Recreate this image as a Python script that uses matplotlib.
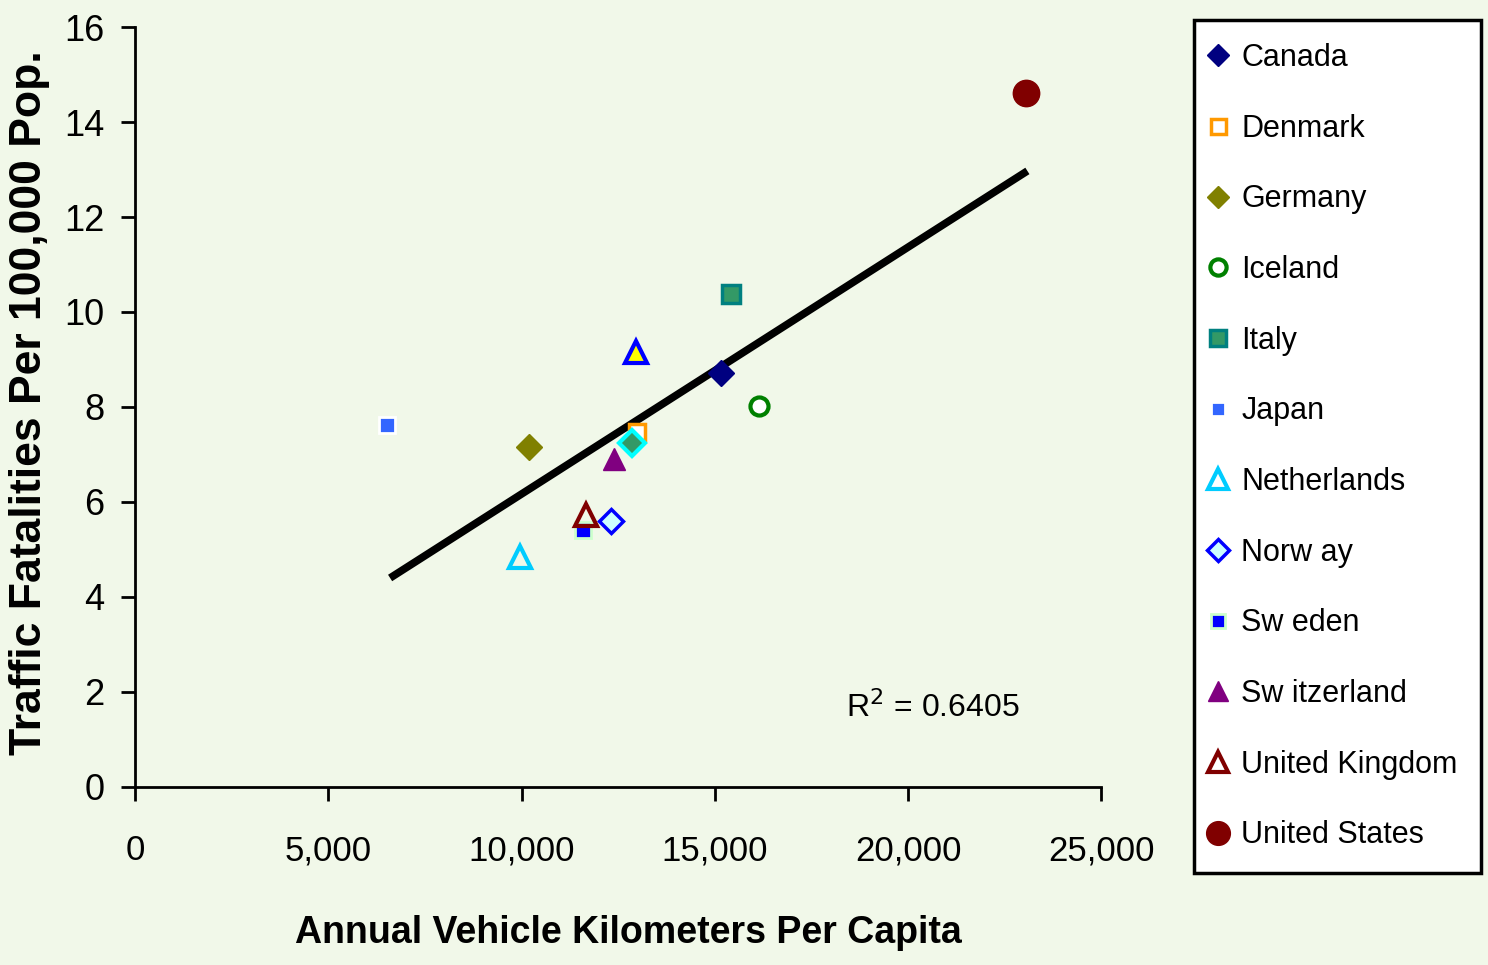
import matplotlib.pyplot as plt
from matplotlib.ticker import FuncFormatter

# data
countries = ["Canada", "Denmark", "Germany", "Iceland", "Italy", "Japan",
             "Netherlands", "Norw ay", "Sw eden", "Sw itzerland",
             "United Kingdom", "United States"]
km_per_capita = [15166, 12992, 10197, 16149, 15424, 6522,
                 9964, 12319, 11594, 12396, 11672, 23059]
fatalities = [8.72, 7.47, 7.16, 8.02, 10.38, 7.62,
              4.84, 5.60, 5.41, 6.90, 5.73, 14.61]

# two extra points with no legend entry
extra_km = [12966, 12862]
extra_fat = [9.16, 7.24]

# trend line
trend_x = [6600, 23085]
trend_y = [4.40, 12.97]
r2_text = "R$^2$ = 0.6405"

# marker styles: marker, size, face, edge, edge width
styles = [
    ("D", 13, "#000080", "#000080", 1),
    ("s", 12, "white", "#FF9900", 2.5),
    ("D", 13, "#808000", "#808000", 1),
    ("o", 13, "white", "#008000", 3),
    ("s", 13, "#339966", "#008080", 2.5),
    ("s", 11, "#3366FF", "white", 2),
    ("^", 16, "none", "#00CCFF", 3),
    ("D", 12, "#CCFFFF", "#0000FF", 2.5),
    ("s", 11, "#0000FF", "#CCFFCC", 2),
    ("^", 16, "#800080", "#800080", 1),
    ("^", 16, "none", "#800000", 3),
    ("o", 19, "#800000", "#800000", 1),
]
extra_styles = [
    ("^", 16, "#FFFF00", "#0000FF", 3),
    ("D", 13, "#339966", "#00FFFF", 3),
]

bg = "#F1F8E9"
sans = ["Liberation Sans", "DejaVu Sans"]

fig = plt.figure(figsize=(14.88, 9.65), dpi=100, facecolor=bg)
ax = fig.add_axes([0.0907, 0.1845, 0.6495, 0.7875])
ax.set_facecolor(bg)

ax.plot(trend_x, trend_y, color="black", lw=5.5, solid_capstyle="butt", zorder=3)

handles = []
for name, x, y, st in zip(countries, km_per_capita, fatalities, styles):
    m, ms, fc, ec, mew = st
    h, = ax.plot([x], [y], linestyle="none", marker=m, markersize=ms,
                 markerfacecolor=fc, markeredgecolor=ec, markeredgewidth=mew,
                 label=name, zorder=4)
    handles.append(h)
for x, y, st in zip(extra_km, extra_fat, extra_styles):
    m, ms, fc, ec, mew = st
    ax.plot([x], [y], linestyle="none", marker=m, markersize=ms,
            markerfacecolor=fc, markeredgecolor=ec, markeredgewidth=mew, zorder=4)

ax.text(18400, 1.66, r2_text, fontsize=23, family=sans, va="center", ha="left")

ax.set_xlim(0, 25000)
ax.set_ylim(0, 16)
ax.set_xticks(range(0, 25001, 5000))
ax.set_yticks(range(0, 17, 2))
ax.xaxis.set_major_formatter(FuncFormatter(lambda v, p: f"{int(v):,}"))
for s in ["top", "right"]:
    ax.spines[s].set_visible(False)
for s in ["left", "bottom"]:
    ax.spines[s].set_linewidth(2)
ax.tick_params(axis="x", length=10, width=2, pad=24, labelsize=25)
ax.tick_params(axis="y", length=10, width=2, pad=12, labelsize=26)
for lab in ax.get_xticklabels() + ax.get_yticklabels():
    lab.set_family(sans)

fig.text(0.422, 0.033, "Annual Vehicle Kilometers Per Capita", ha="center",
         va="center", fontsize=27, fontweight="bold", family=sans)
fig.text(0.020, 0.583, "Traffic Fatalities Per 100,000 Pop.", ha="center",
         va="center", rotation=90, fontsize=32, fontweight="bold", family=sans)

leg = fig.legend(handles=handles, loc="upper left",
                 bbox_to_anchor=(0.8024, 0.979), frameon=True, fancybox=False,
                 edgecolor="black", facecolor="white", framealpha=1,
                 prop={"family": sans, "size": 22}, labelspacing=1.33,
                 handlelength=0.1, handletextpad=0.7, borderpad=0.75,
                 borderaxespad=0, markerscale=0.9)
leg.get_frame().set_linewidth(2.5)

fig.savefig("out.png", dpi=100, facecolor=bg)
